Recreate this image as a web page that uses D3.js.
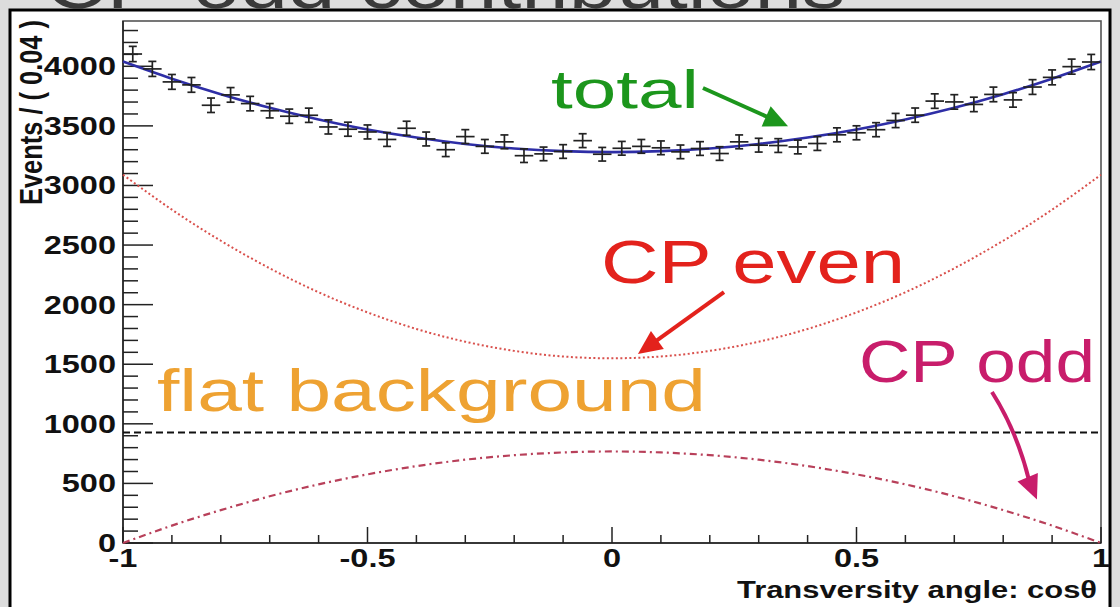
<!DOCTYPE html>
<html>
<head>
<meta charset="utf-8">
<script src="https://cdn.jsdelivr.net/npm/d3@7"></script>
<style>
  html, body { margin: 0; padding: 0; background: #dcdcdc; overflow: hidden; }
  svg { display: block; }
</style>
</head>
<body>
<svg id="chart" width="1120" height="607"></svg>
<script>
// ---- Data -----------------------------------------------------------------
// Histogram: 50 bins of width 0.04 on cos(theta) in [-1, 1]
const binLow = -1;
const binWidth = 0.04;
const events = [
  4103, 3978, 3869, 3844, 3673, 3760, 3687, 3627, 3581, 3589,
  3491, 3472, 3449, 3386, 3480, 3390, 3300, 3410, 3328, 3366,
  3250, 3265, 3285, 3376, 3262, 3312, 3328, 3316, 3282, 3310,
  3268, 3366, 3338, 3335, 3323, 3352, 3425, 3442, 3468, 3545,
  3590, 3708, 3701, 3680, 3764, 3718, 3826, 3907, 3997, 4036
];

// Fit components sampled on a cos(theta) grid
const gridX = [-1, -0.9, -0.8, -0.7, -0.6, -0.5, -0.4, -0.3, -0.2, -0.1, 0,
               0.1, 0.2, 0.3, 0.4, 0.5, 0.6, 0.7, 0.8, 0.9, 1];
const totalFit = [4040, 3896, 3766, 3652, 3554, 3470, 3402, 3348, 3310, 3288, 3280,
                  3288, 3310, 3348, 3402, 3470, 3554, 3652, 3766, 3896, 4040];
const cpEven = [3090, 2797, 2536, 2305, 2104, 1935, 1796, 1689, 1612, 1565, 1550,
                1565, 1612, 1689, 1796, 1935, 2104, 2305, 2536, 2797, 3090];
const cpOdd = [0, 146, 276, 392, 492, 576, 645, 699, 737, 760, 768,
               760, 737, 699, 645, 576, 492, 392, 276, 146, 0];
const flatX = [-1, 1];
const flatBackground = [928, 928];

// Axes
const xMajorTicks = [-1, -0.5, 0, 0.5, 1];
const xTickLabels = ["-1", "-0.5", "0", "0.5", "1"];
const yMajorTicks = [0, 500, 1000, 1500, 2000, 2500, 3000, 3500, 4000];
const yTickLabels = ["0", "500", "1000", "1500", "2000", "2500", "3000", "3500", "4000"];
const yMax = 4380;

// ---- Layout ---------------------------------------------------------------
const svg = d3.select("#chart");
const frame = { left: 123, right: 1101, top: 21, bottom: 543 };
const FONT = "'Liberation Sans', Arial, Helvetica, sans-serif";
const STRETCH = 1.3;   // wide glyph proportions used throughout the figure

const x = d3.scaleLinear().domain([-1, 1]).range([frame.left, frame.right]);
const y = d3.scaleLinear().domain([0, yMax]).range([frame.bottom, frame.top]);

// Slide title, running off the top edge
svg.append("text")
  .attr("x", 45).attr("y", 8)
  .attr("font-family", FONT).attr("font-size", 66)
  .attr("fill", "#3a3a3a")
  .attr("textLength", 800).attr("lengthAdjust", "spacingAndGlyphs")
  .text("CP-odd contributions");

// Canvas box
svg.append("rect")
  .attr("x", 10).attr("y", 10).attr("width", 1100).attr("height", 610)
  .attr("fill", "#fff").attr("stroke", "#000").attr("stroke-width", 3);

// Plot frame
svg.append("rect")
  .attr("x", frame.left).attr("y", frame.top)
  .attr("width", frame.right - frame.left).attr("height", frame.bottom - frame.top)
  .attr("fill", "none").attr("stroke", "#555").attr("stroke-width", 1.6);

// ---- Axes (ticks drawn inward) --------------------------------------------
const axes = svg.append("g").attr("stroke", "#222").attr("stroke-width", 1.5);
axes.append("line").attr("x1", frame.left).attr("x2", frame.right)
  .attr("y1", frame.bottom).attr("y2", frame.bottom);
axes.append("line").attr("x1", frame.left).attr("x2", frame.left)
  .attr("y1", frame.bottom).attr("y2", frame.top);

const xMinor = d3.range(-10, 11).map(i => i / 10);
axes.selectAll(".xt").data(xMinor).join("line")
  .attr("x1", d => x(d)).attr("x2", d => x(d))
  .attr("y1", frame.bottom)
  .attr("y2", d => frame.bottom - (xMajorTicks.some(m => Math.abs(m - d) < 1e-9) ? 16 : 8));

const yMinor = d3.range(0, yMax, 100);
axes.selectAll(".yt").data(yMinor).join("line")
  .attr("y1", d => y(d)).attr("y2", d => y(d))
  .attr("x1", frame.left)
  .attr("x2", d => frame.left + (d % 500 === 0 ? 30 : 15));

// Tick labels
const labelStyle = sel => sel
  .attr("font-family", FONT).attr("font-weight", "bold")
  .attr("font-size", 25).attr("fill", "#111");

xMajorTicks.forEach((t, i) => {
  svg.append("g").attr("transform", `translate(${x(t)},567) scale(${STRETCH},1)`)
    .append("text").call(labelStyle)
    .attr("text-anchor", "middle").text(xTickLabels[i]);
});
yMajorTicks.forEach((t, i) => {
  svg.append("g").attr("transform", `translate(116,${y(t)}) scale(${STRETCH},1)`)
    .append("text").call(labelStyle)
    .attr("text-anchor", "end").attr("dy", "0.36em").text(yTickLabels[i]);
});

// Axis titles
svg.append("text")
  .attr("x", 737).attr("y", 598)
  .attr("font-family", FONT).attr("font-weight", "bold").attr("font-size", 23)
  .attr("fill", "#111")
  .attr("textLength", 360).attr("lengthAdjust", "spacingAndGlyphs")
  .text("Transversity angle: cos\u03B8");

svg.append("g").attr("transform", `translate(42,205) scale(${STRETCH},1) rotate(-90)`)
  .append("text")
  .attr("font-family", FONT).attr("font-weight", "bold").attr("font-size", 24)
  .attr("fill", "#111")
  .attr("textLength", 185).attr("lengthAdjust", "spacingAndGlyphs")
  .text("Events / ( 0.04 )");

// ---- Curves -----------------------------------------------------------------
const plot = svg.append("g");
const curve = d3.line().x(d => x(d[0])).y(d => y(d[1])).curve(d3.curveNatural);
const zipGrid = vals => gridX.map((g, i) => [g, vals[i]]);

plot.append("path")
  .attr("d", d3.line().x(d => x(d[0])).y(d => y(d[1]))(flatX.map((g, i) => [g, flatBackground[i]])))
  .attr("fill", "none").attr("stroke", "#111").attr("stroke-width", 2)
  .attr("stroke-dasharray", "7,4");

plot.append("path")
  .attr("d", curve(zipGrid(cpEven)))
  .attr("fill", "none").attr("stroke", "#d9504c").attr("stroke-width", 2)
  .attr("stroke-dasharray", "2,2.5");

plot.append("path")
  .attr("d", curve(zipGrid(cpOdd)))
  .attr("fill", "none").attr("stroke", "#b8405a").attr("stroke-width", 2.2)
  .attr("stroke-dasharray", "7,4,2,4");

plot.append("path")
  .attr("d", curve(zipGrid(totalFit)))
  .attr("fill", "none").attr("stroke", "#2e2ea6").attr("stroke-width", 2.6);

// ---- Data points with error bars ------------------------------------------
const bins = events.map((v, i) => ({
  lo: binLow + i * binWidth,
  hi: binLow + (i + 1) * binWidth,
  c: binLow + (i + 0.5) * binWidth,
  v: v,
  e: Math.sqrt(v)
}));
const pts = plot.append("g").attr("stroke", "#222").attr("stroke-width", 1.7);
const pt = pts.selectAll("g").data(bins).join("g");
pt.append("line")
  .attr("x1", d => x(d.lo) + 0.5).attr("x2", d => x(d.hi) - 0.5)
  .attr("y1", d => y(d.v)).attr("y2", d => y(d.v));
pt.append("line")
  .attr("x1", d => x(d.c)).attr("x2", d => x(d.c))
  .attr("y1", d => y(d.v - d.e)).attr("y2", d => y(d.v + d.e));
pt.append("line")
  .attr("x1", d => x(d.c) - 4).attr("x2", d => x(d.c) + 4)
  .attr("y1", d => y(d.v + d.e)).attr("y2", d => y(d.v + d.e));
pt.append("line")
  .attr("x1", d => x(d.c) - 4).attr("x2", d => x(d.c) + 4)
  .attr("y1", d => y(d.v - d.e)).attr("y2", d => y(d.v - d.e));

// ---- Annotations ------------------------------------------------------------
const notes = [
  { text: "total",           x: 551, y: 108, size: 54, len: 148, color: "#1c961c" },
  { text: "CP even",         x: 601, y: 283, size: 62, len: 304, color: "#e3221c" },
  { text: "CP odd",          x: 859, y: 382, size: 60, len: 236, color: "#c81d6b" },
  { text: "flat background", x: 157, y: 411, size: 60, len: 549, color: "#eea232" }
];
svg.selectAll(".note").data(notes).join("text")
  .attr("x", d => d.x).attr("y", d => d.y)
  .attr("font-family", FONT).attr("font-size", d => d.size)
  .attr("fill", d => d.color)
  .attr("textLength", d => d.len).attr("lengthAdjust", "spacingAndGlyphs")
  .text(d => d.text);

// Arrows, given in (cos theta, events) coordinates
const arrows = [
  { from: [0.186, 3818], to: [0.360, 3497], bend: 0,  color: "#1c961c" },
  { from: [0.229, 2106], to: [0.053, 1586], bend: 0,  color: "#e3221c" },
  { from: [0.777, 1267], to: [0.869, 365],  bend: -8, color: "#c81d6b" }
];
arrows.forEach(a => {
  const x0 = x(a.from[0]), y0 = y(a.from[1]);
  const x1 = x(a.to[0]),   y1 = y(a.to[1]);
  const dx = x1 - x0, dy = y1 - y0, L = Math.hypot(dx, dy);
  const ux = dx / L, uy = dy / L, nx = -uy, ny = ux;
  const headLen = 24, headHalf = 11;
  const bx = x1 - ux * headLen, by = y1 - uy * headLen;
  const mx = (x0 + bx) / 2 + nx * a.bend, my = (y0 + by) / 2 + ny * a.bend;
  svg.append("path")
    .attr("d", `M${x0},${y0} Q${mx},${my} ${bx + ux * 4},${by + uy * 4}`)
    .attr("fill", "none").attr("stroke", a.color).attr("stroke-width", 4);
  svg.append("path")
    .attr("d", `M${x1},${y1} L${bx + nx * headHalf},${by + ny * headHalf} L${bx - nx * headHalf},${by - ny * headHalf} Z`)
    .attr("fill", a.color);
});
</script>
</body>
</html>
